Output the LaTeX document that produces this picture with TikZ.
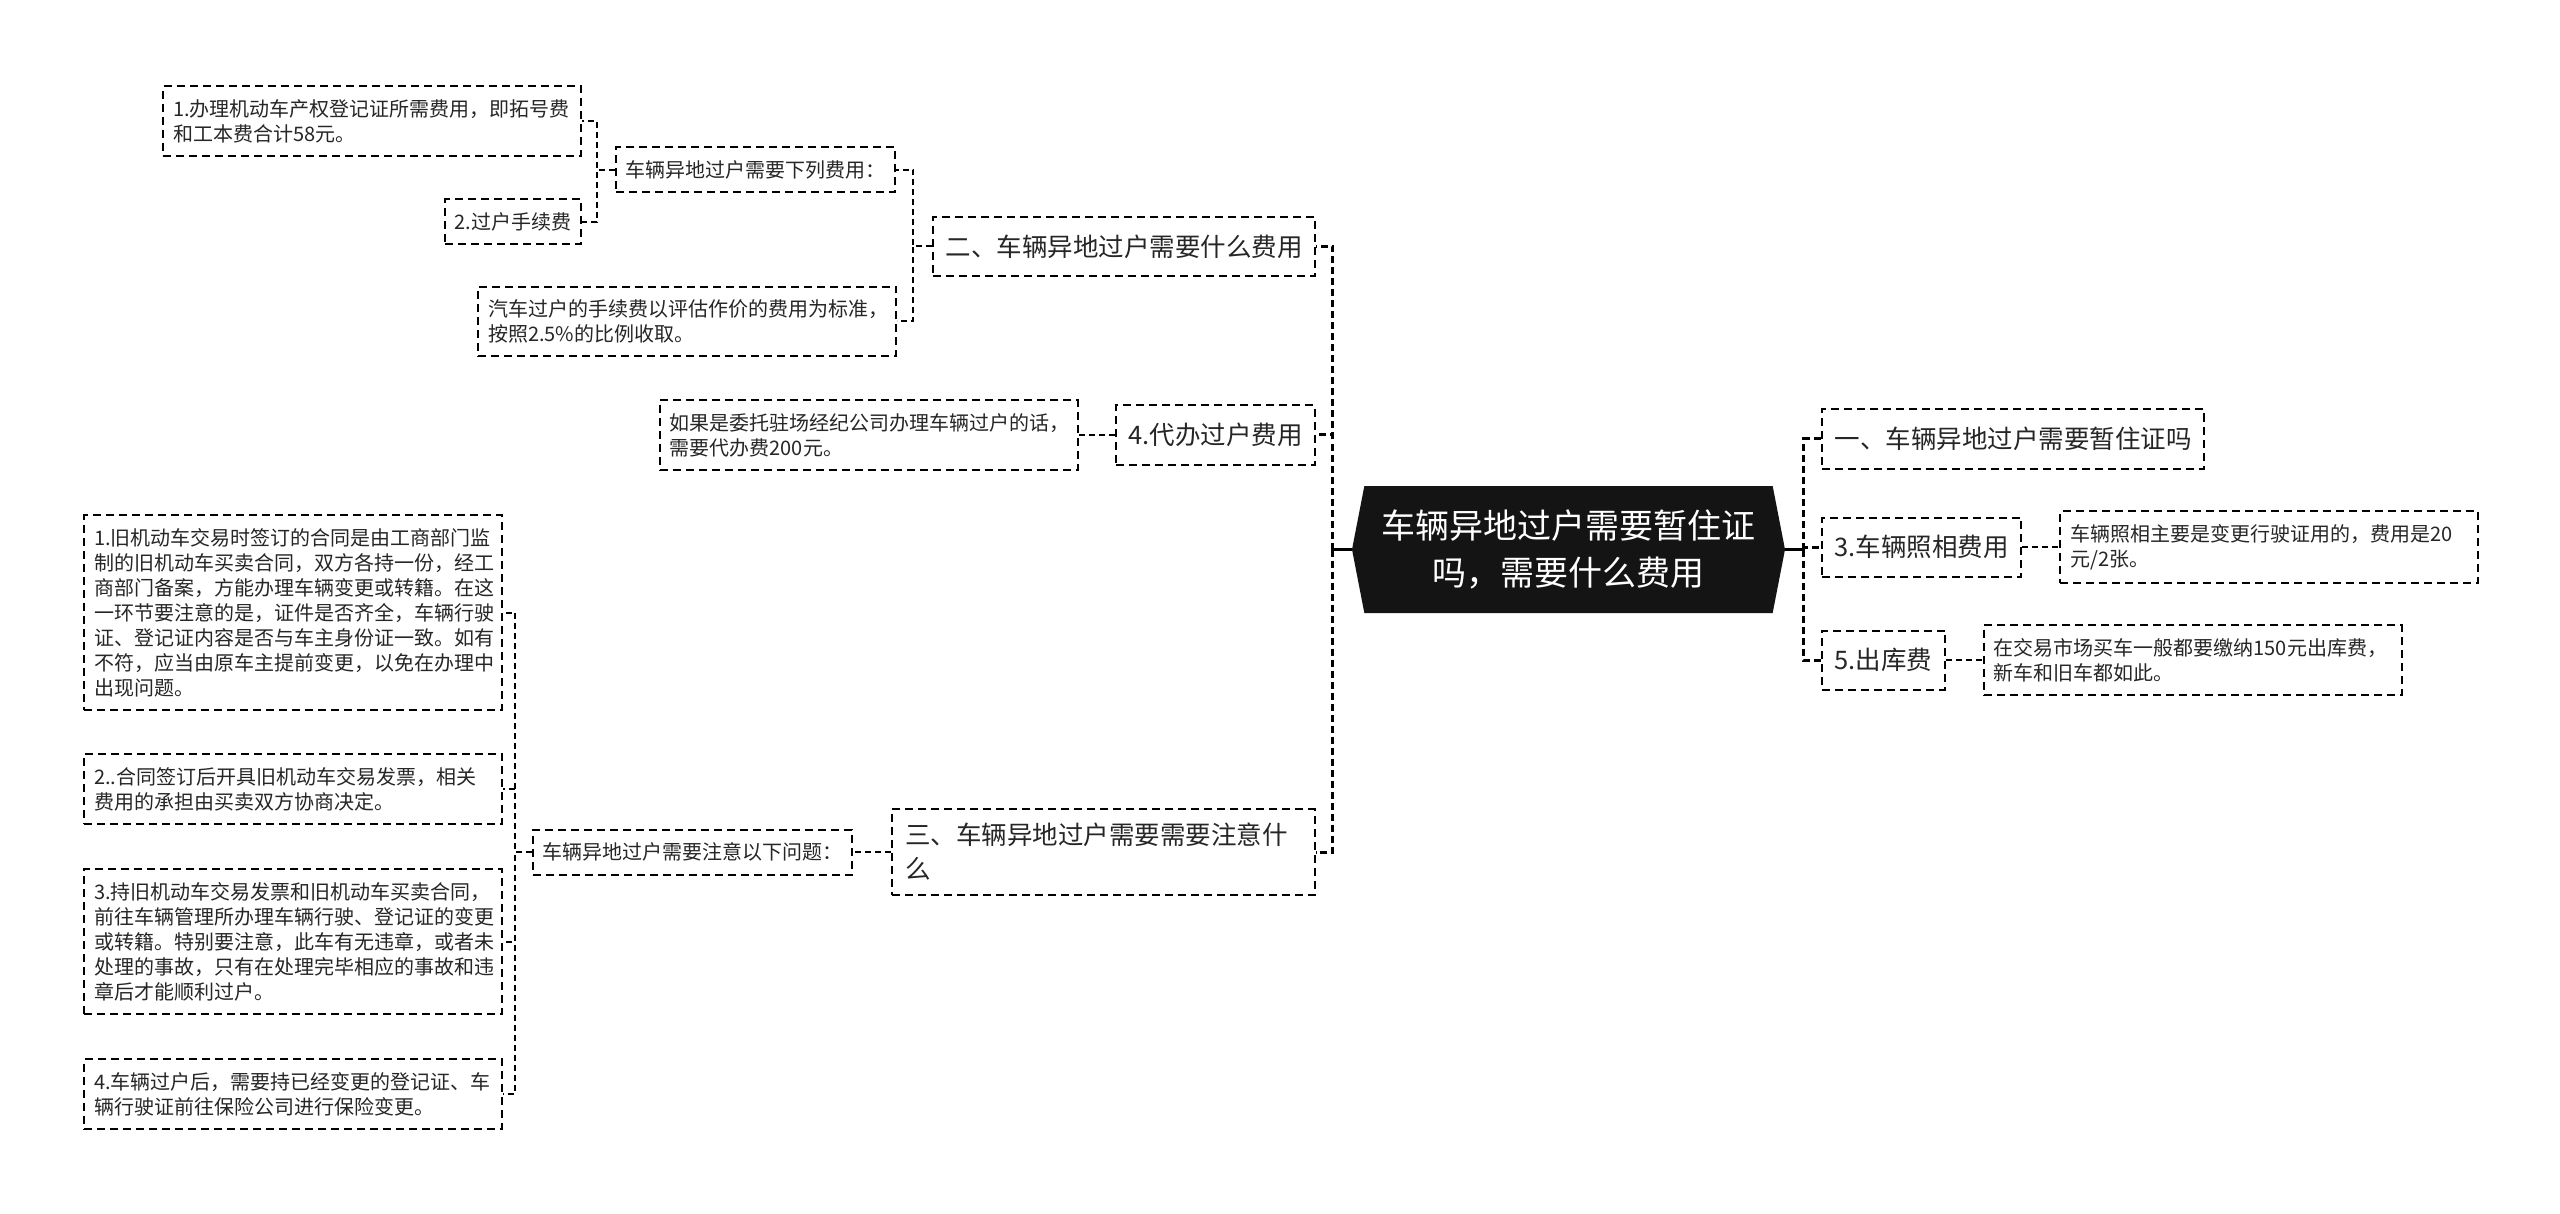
\documentclass[tikz,border=0pt]{standalone}
\usepackage{fontspec}
\setmainfont{Noto Sans CJK SC}
\usetikzlibrary{shapes.symbols,positioning}

\begin{document}
\begin{tikzpicture}[
    x=1pt, y=-1pt,
    central/.style={signal, signal to=west and east, signal pointer angle=158,
                    fill=black!92, text=white, align=center, minimum width=433pt,
                    minimum height=127pt, inner sep=0pt,
                    font=\fontsize{34}{47}\selectfont},
    branch/.style={rectangle, draw, dash pattern=on 8pt off 5pt, line width=2pt,
                   align=left, inner xsep=12.5pt, inner ysep=14pt, minimum height=59pt,
                   text=black!85, font=\fontsize{25.5}{34}\selectfont},
    item/.style={rectangle, draw, dash pattern=on 8pt off 5pt, line width=2pt,
                 align=left, inner xsep=9.5pt, inner ysep=11pt, minimum height=45pt,
                 text=black!85, font=\fontsize{20}{25}\selectfont},
    detail/.style={item, text width=398pt, inner xsep=10pt, inner ysep=13pt},
    hub/.style={line width=3pt},
    trunk/.style={line width=3pt, dash pattern=on 7pt off 4pt},
    link/.style={line width=2pt, dash pattern=on 6pt off 4pt}
]
\fill[white] (0,0) rectangle (2560,1214);
\useasboundingbox (0,0) rectangle (2560,1214);

%% ── Root ─────────────────────────────────────────────────────────
\node[central] (root) at (1568.5,549.5) {车辆异地过户需要暂住证\\吗，需要什么费用};

%% ── Right side ───────────────────────────────────────────────────
\node[branch, anchor=west] (q1) at (1821,439) {一、车辆异地过户需要暂住证吗};
\node[branch, anchor=west] (photo) at (1821,547) {3.车辆照相费用};
\node[branch, anchor=west] (outfee) at (1821,660) {5.出库费};
\node[detail, right=37pt of photo] (photonote)
    {车辆照相主要是变更行驶证用的，费用是20\\元/2张。};
\node[detail, right=37pt of outfee] (outnote)
    {在交易市场买车一般都要缴纳150元出库费，\\新车和旧车都如此。};

%% ── Left side ────────────────────────────────────────────────────
\node[branch, anchor=east] (q2) at (1316,246.5) {二、车辆异地过户需要什么费用};
\node[branch, anchor=east] (agent) at (1316,435) {4.代办过户费用};
\node[branch, anchor=east, text width=397pt, inner xsep=13pt] (q3) at (1316,852)
    {三、车辆异地过户需要需要注意什\\么};

\node[item, anchor=east] (feelist) at (896,170) {车辆异地过户需要下列费用：};
\node[detail, anchor=east] (ratenote) at (897,321.5)
    {汽车过户的手续费以评估作价的费用为标准，\\按照2.5\%的比例收取。};
\node[detail, anchor=east] (fee1) at (582,121)
    {1.办理机动车产权登记证所需费用，即拓号费\\和工本费合计58元。};
\node[item, anchor=east] (fee2) at (582,222) {2.过户手续费};

\node[detail, left=36pt of agent] (agentnote)
    {如果是委托驻场经纪公司办理车辆过户的话，\\需要代办费200元。};

\node[item, left=38pt of q3] (tips) {车辆异地过户需要注意以下问题：};
\node[detail, anchor=east] (tip1) at (503,612.5)
    {1.旧机动车交易时签订的合同是由工商部门监\\制的旧机动车买卖合同，双方各持一份，经工\\商部门备案，方能办理车辆变更或转籍。在这\\一环节要注意的是，证件是否齐全，车辆行驶\\证、登记证内容是否与车主身份证一致。如有\\不符，应当由原车主提前变更，以免在办理中\\出现问题。};
\node[detail, anchor=east] (tip2) at (503,789)
    {2..合同签订后开具旧机动车交易发票，相关\\费用的承担由买卖双方协商决定。};
\node[detail, anchor=east] (tip3) at (503,941.5)
    {3.持旧机动车交易发票和旧机动车买卖合同，\\前往车辆管理所办理车辆行驶、登记证的变更\\或转籍。特别要注意，此车有无违章，或者未\\处理的事故，只有在处理完毕相应的事故和违\\章后才能顺利过户。};
\node[detail, anchor=east] (tip4) at (503,1094)
    {4.车辆过户后，需要持已经变更的登记证、车\\辆行驶证前往保险公司进行保险变更。};

%% ── Connectors from root ─────────────────────────────────────────
\draw[hub] (root.east) -- ++(18,0) coordinate (rhub);
\draw[trunk] (rhub) |- (q1.west);
\draw[trunk] (rhub) |- (photo.west);
\draw[trunk] (rhub) |- (outfee.west);
\draw[hub] (root.west) -- ++(-19,0) coordinate (lhub);
\draw[trunk] (lhub) |- (q2.east);
\draw[trunk] (lhub) |- (agent.east);
\draw[trunk] (lhub) |- (q3.east);

%% ── Other connectors ─────────────────────────────────────────────
\draw[link] (photo.east) -- (photonote.west);
\draw[link] (outfee.east) -- (outnote.west);
\draw[link] (q2.west) -- ++(-19,0) |- (feelist.east);
\draw[link] (q2.west) -- ++(-19,0) |- (ratenote.east);
\draw[link] (feelist.west) -- ++(-18,0) |- (fee1.east);
\draw[link] (feelist.west) -- ++(-18,0) |- (fee2.east);
\draw[link] (agent.west) -- (agentnote.east);
\draw[link] (q3.west) -- (tips.east);
\draw[link] (tips.west) -- ++(-17,0) |- (tip1.east);
\draw[link] (tips.west) -- ++(-17,0) |- (tip2.east);
\draw[link] (tips.west) -- ++(-17,0) |- (tip3.east);
\draw[link] (tips.west) -- ++(-17,0) |- (tip4.east);

\end{tikzpicture}
\end{document}
